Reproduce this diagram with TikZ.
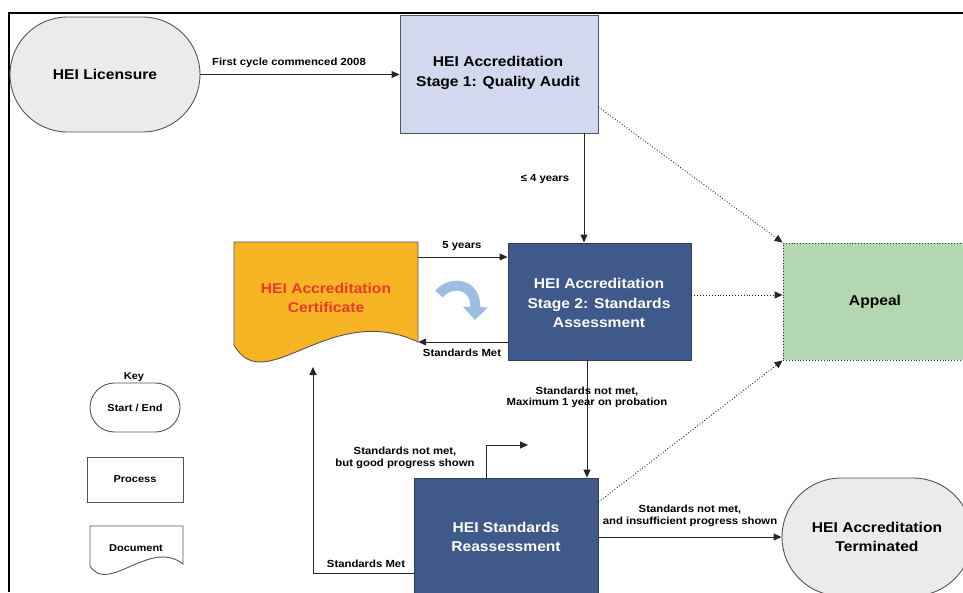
\documentclass[tikz,border=0pt]{standalone}
\usepackage{fontspec}
\setmainfont{Liberation Sans}[FakeStretch=1.1]
\usetikzlibrary{arrows.meta,shapes.misc}
\definecolor{lgray}{HTML}{EBEBEB}
\definecolor{sone}{HTML}{D2D8EE}
\definecolor{dblue}{HTML}{3F5A8A}
\definecolor{dbedge}{HTML}{2E3F60}
\definecolor{certy}{HTML}{F7B526}
\definecolor{certr}{HTML}{E63B2B}
\definecolor{apg}{HTML}{B2D7B1}
\definecolor{cblue}{HTML}{9DBEE2}
\definecolor{edge}{HTML}{555555}
\begin{document}
\begin{tikzpicture}[x=1pt,y=-1pt,
  big/.style={font=\fontsize{14.2}{19.5}\selectfont\bfseries, align=center},
  small/.style={font=\fontsize{10.3}{11.5}\selectfont\bfseries, align=center},
  keyf/.style={font=\fontsize{10}{12}\selectfont\bfseries, align=center},
  term/.style={rounded rectangle, draw=edge, line width=0.9pt, fill=lgray, inner sep=0pt},
  proc/.style={rectangle, draw=edge, line width=0.9pt, inner sep=0pt},
  dproc/.style={proc, fill=dblue, draw=dbedge, text=white},
  arr/.style={draw=black!85, line width=0.9pt, -{Triangle[length=8pt,width=7pt]}},
  darr/.style={arr, dotted},
  docshape/.style={draw=edge, line width=0.9pt}
]
\useasboundingbox (0,0) rectangle (963,592);
\clip (0,0) rectangle (963,592);
\fill[white] (0,0) rectangle (963,592);

% frame
\draw[line width=1.3pt] (9,592) -- (9,13) -- (963,13);

% main nodes
\node[term, big, minimum width=190pt, minimum height=115pt] (lic) at (105,74.5) {HEI Licensure};
\node[proc, fill=sone, minimum width=198pt, minimum height=118pt] (s1) at (499,74) {};
\node[big] (s1t) at (498,73) {HEI Accreditation\\Stage 1: Quality Audit};
\node[dproc, minimum width=183pt, minimum height=117pt] (s2) at (599.5,301.5) {};
\node[big, text=white] (s2t) at (599,303) {HEI Accreditation\\Stage 2: Standards\\Assessment};

% certificate (document shape)
\path[docshape, fill=certy] (234,242) -- (418,242) -- (418,342) .. controls (330,300) and (265,400) .. (234,345) -- cycle;
\node[inner sep=0pt, minimum width=184pt, minimum height=103pt] (cert) at (326,293.5) {};
\node[big, text=certr] (certt) at (326,298) {HEI Accreditation\\Certificate};

\node[proc, fill=apg, draw=black!80, dotted, big, minimum width=184pt, minimum height=117pt] (app) at (875,301.5) {Appeal};
\node[dproc, big, minimum width=184pt, minimum height=118pt] (re) at (506,537) {HEI Standards\\Reassessment};
\node[term, big, minimum width=190pt, minimum height=118pt] (ter) at (877,537) {HEI Accreditation\\Terminated};

% key
\node[keyf] (key) at (134,377) {Key};
\node[term, fill=white, keyf, minimum width=90pt, minimum height=49pt] (kse) at (135,407.5) {Start / End};
\node[proc, keyf, minimum width=96pt, minimum height=45pt] (kpr) at (135,479.5) {Process};
\path[docshape, fill=white] (90,526) -- (183,526) -- (183,564) .. controls (150,538) and (108,595) .. (90,566) -- cycle;
\node[keyf] (kdoc) at (136,548) {Document};

% helper coordinates
\coordinate (x584) at (584,0);
\coordinate (x587) at (587,0);
\coordinate (x486) at (486,0);
\coordinate (y257) at (0,257);
\coordinate (y342) at (0,342);
\coordinate (y107) at (0,107);
\coordinate (y295) at (0,295);
\coordinate (y502) at (0,502);
\coordinate (y573) at (0,573);
\coordinate (gp) at (528,445);
\coordinate (certin) at (313,367);

% connectors
\draw[arr] (lic.east) -- (lic.east -| s1.west);
\node[small] (l1) at (289,63) {First cycle commenced 2008};
\draw[arr] (s1.south -| x584) -- (s2.north -| x584);
\node[small] (l2) at (545,179) {≤ 4 years};
\draw[arr] (cert.east |- y257) -- (s2.west |- y257);
\node[small] (l3) at (462,246) {5 years};
\draw[arr] (s2.west |- y342) -- (cert.east |- y342);
\node[small] (l4) at (462,353) {Standards Met};
\draw[darr] (s1.east |- y107) -- (app.north west);
\draw[darr] (s2.east |- y295) -- (app.west |- y295);
\draw[darr] (re.east |- y502) -- (app.south west);
\draw[arr] (s2.south -| x587) -- (re.north -| x587);
\node[small] (l5) at (587,397.5) {Standards not met,\\Maximum 1 year on probation};
\draw[arr] (re.north -| x486) |- (gp);
\node[small] (l6) at (405,458) {Standards not met,\\but good progress shown};
\draw[arr] (re.west |- y573) -| (certin);
\node[small] (l7) at (366,564) {Standards Met};
\draw[arr] (re.east) -- (ter.west);
\node[small] (l8) at (690,516) {Standards not met,\\and insufficient progress shown};

% curved cycle arrow
\draw[cblue, line width=10pt, -{Triangle[length=13pt,width=24pt]}] (439,294) .. controls (451,280) and (476,283) .. (475,320);
\end{tikzpicture}
\end{document}
